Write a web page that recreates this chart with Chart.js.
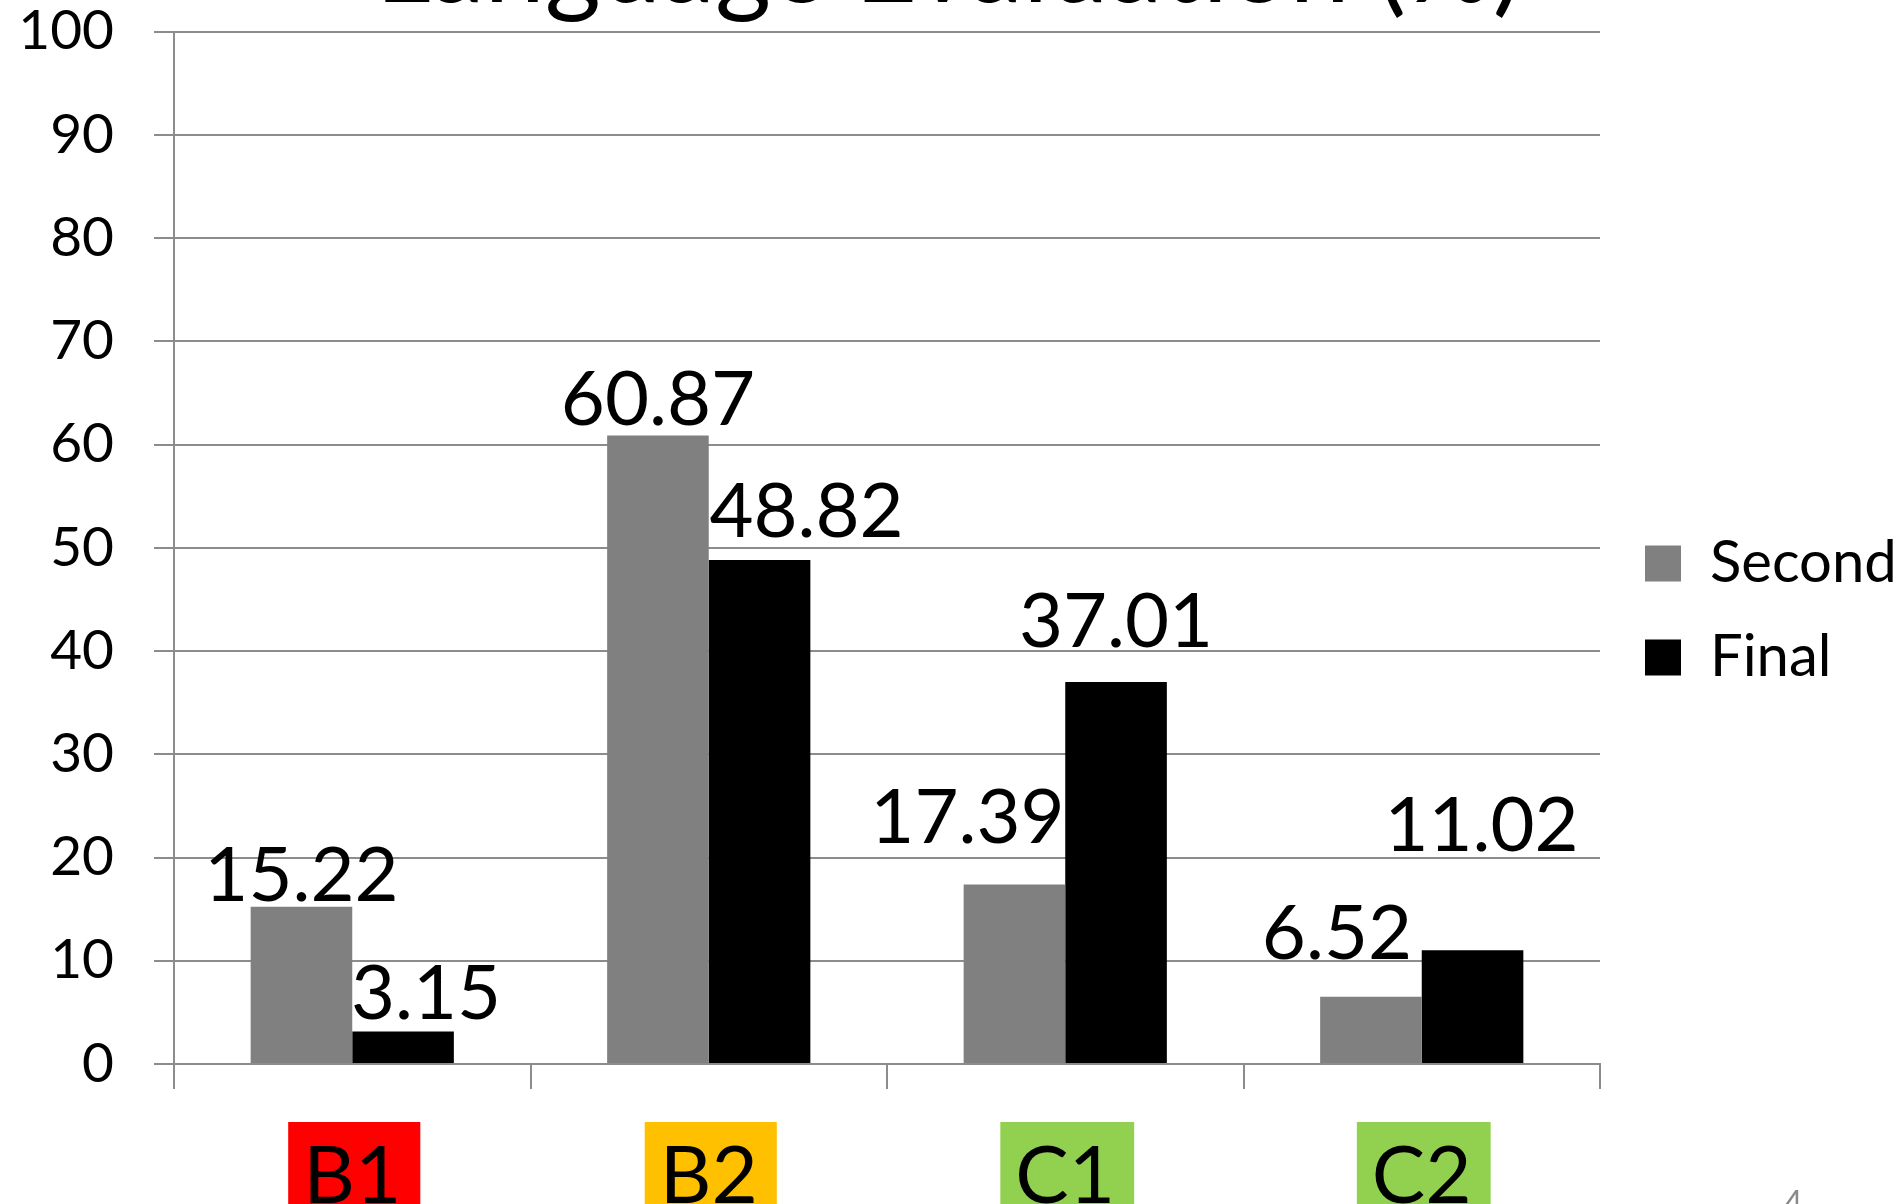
<!DOCTYPE html>
<html>
<head>
<meta charset="utf-8">
<script src="https://cdn.jsdelivr.net/npm/chart.js@4"></script>
<style>
  html, body { margin: 0; padding: 0; background: #fff; overflow: hidden; width: 1897px; height: 1204px; }
  #wrap { position: absolute; left: 0; top: -98px; width: 1897px; height: 1363px; }
  #pageNo { position: absolute; left: 1784px; top: 1182px; font: 32px Lato; color: #8a8a8a; }
</style>
</head>
<body>
<div id="wrap"><canvas id="chart"></canvas></div>
<div id="pageNo">4</div>
<script>
const levels = ["B1", "B2", "C1", "C2"];
const levelColors = ["#FF0000", "#FFC000", "#92D050", "#92D050"];
const secondValues = [15.22, 60.87, 17.39, 6.52];
const finalValues = [3.15, 48.82, 37.01, 11.02];
const yTicks = [0, 10, 20, 30, 40, 50, 60, 70, 80, 90, 100];

// label nudges (px) as placed by hand in the original
const secondNudge = [[0, 6], [0, 11], [-47, 41], [-34, 38]];
const finalNudge = [[23, 12], [47, 23], [0, 35], [9, 99]];

const gridGray = "#8c8c8c";

const valueLabels = {
  id: "valueLabels",
  afterDatasetsDraw(chart) {
    const ctx = chart.ctx;
    ctx.save();
    ctx.font = "76px Lato";
    ctx.fillStyle = "#000";
    ctx.textAlign = "center";
    ctx.textBaseline = "alphabetic";
    chart.data.datasets.forEach((ds, di) => {
      const nudge = di === 0 ? secondNudge : finalNudge;
      chart.getDatasetMeta(di).data.forEach((bar, i) => {
        ctx.fillText(ds.data[i].toFixed(2), bar.x + nudge[i][0], bar.y - nudge[i][1]);
      });
    });
    ctx.restore();
  }
};

// move the legend a little, the way the slide has it
const legendShift = {
  id: "legendShift",
  afterLayout(chart) {
    const l = chart.legend;
    l.left += 9; l.right += 9;
    l.top += 27; l.bottom += 27;
  }
};

function draw() {
  Chart.defaults.font.family = "Lato";
  Chart.defaults.color = "#000";
  new Chart(document.getElementById("chart"), {
    type: "bar",
    data: {
      labels: levels,
      datasets: [
        { label: "Second", data: secondValues, backgroundColor: "#808080", barPercentage: 1, categoryPercentage: 0.57 },
        { label: "Final", data: finalValues, backgroundColor: "#000000", barPercentage: 1, categoryPercentage: 0.57 },
      ]
    },
    options: {
      responsive: true,
      maintainAspectRatio: false,
      animation: false,
      devicePixelRatio: 1,
      layout: { padding: 0 },
      plugins: {
        title: {
          display: true,
          text: "Language Evaluation (%)",
          font: { size: 108, weight: "normal" },
          color: "#000",
          padding: { top: 0, bottom: 0 }
        },
        legend: {
          position: "right",
          align: "center",
          maxWidth: 297,
          labels: { boxWidth: 36, boxHeight: 36, padding: 36, font: { size: 58 }, color: "#000" }
        },
        tooltip: { enabled: false }
      },
      scales: {
        x: {
          grid: { display: true, drawOnChartArea: false, drawTicks: true, tickLength: 25, color: gridGray, lineWidth: 2, offset: true },
          border: { display: true, color: gridGray, width: 2 },
          ticks: {
            font: { size: 80 },
            color: "#000",
            padding: 40,
            showLabelBackdrop: true,
            backdropColor: (c) => levelColors[c.index],
            backdropPadding: { top: 7, bottom: 40, left: 15, right: 19 }
          }
        },
        y: {
          min: 0,
          max: 100,
          afterBuildTicks: (axis) => { axis.ticks = yTicks.map(v => ({ value: v })); },
          afterFit: (axis) => { axis.width = 174; },
          grid: { color: gridGray, lineWidth: 2, tickLength: 20 },
          border: { display: true, color: gridGray, width: 2 },
          ticks: { font: { size: 55 }, color: "#000", padding: 40 }
        }
      }
    },
    plugins: [valueLabels, legendShift]
  });
}

document.fonts.load("76px Lato").then(draw, draw);
</script>
</body>
</html>
